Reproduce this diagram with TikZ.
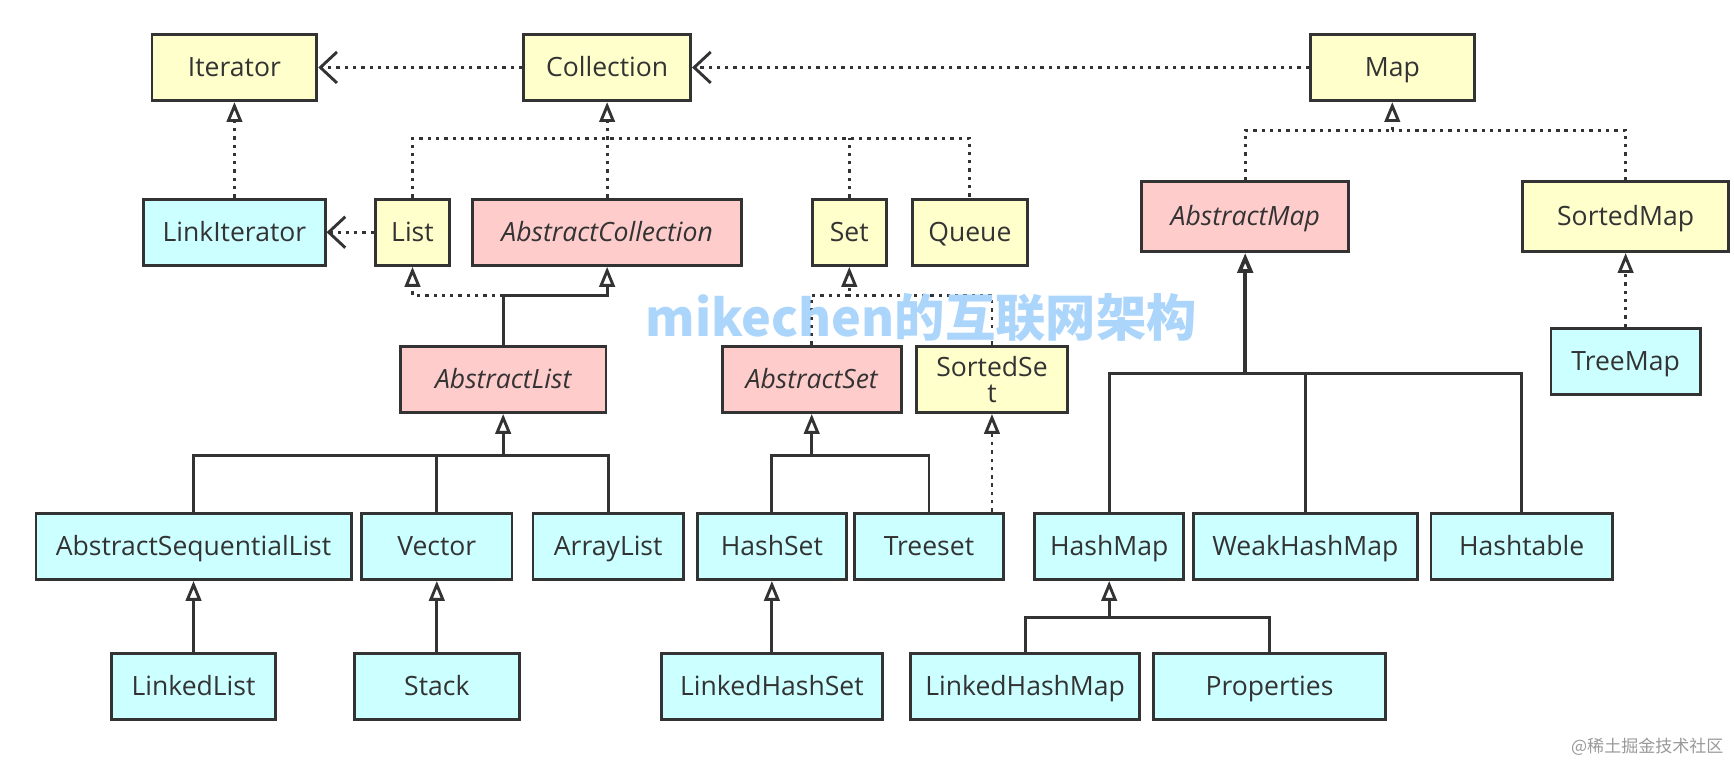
\documentclass[tikz,border=0pt]{standalone}
\usepackage{fontspec}
\setmainfont{Open Sans}
\newfontfamily\cjk{Noto Sans CJK SC}
\usetikzlibrary{arrows.meta}
\definecolor{ifc}{HTML}{FFFFCC}
\definecolor{absc}{HTML}{FFCCCC}
\definecolor{clsc}{HTML}{CCFFFF}
\definecolor{ink}{HTML}{333333}
\definecolor{wmblue}{HTML}{ABD5FB}
\begin{document}
\begin{tikzpicture}[x=1pt, y=-1pt, font=\fontsize{24}{28}\selectfont,
  frame/.style={draw=ink, line width=2.6pt, text=ink, minimum height=60pt, inner sep=0pt},
  box/.style={frame, text height=21pt, text depth=5pt},
  iface/.style={box, fill=ifc},
  absbox/.style={box, fill=absc, font=\fontsize{24}{28}\selectfont\itshape},
  cls/.style={box, fill=clsc},
  solidln/.style={draw=ink, line width=2.6pt},
  dotln/.style={draw=ink, line width=2.6pt, dash pattern=on 3pt off 4.5pt},
  ext/.style={solidln, -{Triangle[open, length=18pt, width=14pt]}},
  impl/.style={dotln, -{Triangle[open, length=18pt, width=14pt]}},
  uses/.style={dotln, -{Straight Barb[length=15pt, width=28pt]}}]

\useasboundingbox (0,0) rectangle (1568,689);

% interfaces and classes, row by row
\node[iface, minimum width=149pt] (iter) at (212,61) {Iterator};
\node[iface, minimum width=151pt] (coll) at (549,61) {Collection};
\node[iface, minimum width=148pt] (map) at (1259,61) {Map};

\node[cls, minimum width=164pt] (linkit) at (212,210) {LinkIterator};
\node[iface, minimum width=67pt] (list) at (373,210) {List};
\node[absbox, minimum width=243pt] (abscol) at (549,210) {AbstractCollection};
\node[iface, minimum width=67pt] (set) at (768,210) {Set};
\node[iface, minimum width=104pt] (queue) at (877,210) {Queue};
\node[absbox, minimum width=187pt, minimum height=63pt] (absmap) at (1126,196) {AbstractMap};
\node[iface, minimum width=186pt, minimum height=63pt] (sortmap) at (1470,196) {SortedMap};

\node[absbox, minimum width=186pt] (abslist) at (455,343) {AbstractList};
\node[absbox, minimum width=162pt] (absset) at (734,343) {AbstractSet};
\node[frame, fill=ifc, minimum width=136pt, align=center] (sortset) at (897,343) {SortedSe\\[-4pt]t};
\node[cls, minimum width=135pt] (treemap) at (1470,327) {TreeMap};

\node[cls, minimum width=285pt] (asl) at (175,494) {AbstractSequentialList};
\node[cls, minimum width=136pt] (vector) at (395,494) {Vector};
\node[cls, minimum width=136pt] (arrlist) at (550,494) {ArrayList};
\node[cls, minimum width=135pt] (hashset) at (698,494) {HashSet};
\node[cls, minimum width=135pt] (treeset) at (840,494) {Treeset};
\node[cls, minimum width=135pt] (hashmap) at (1003,494) {HashMap};
\node[cls, minimum width=203pt] (weak) at (1180.4,494) {WeakHashMap};
\node[cls, minimum width=164pt] (htable) at (1376,494) {Hashtable};

\node[cls, minimum width=148pt] (llist) at (175,621) {LinkedList};
\node[cls, minimum width=149pt] (stack) at (395,621) {Stack};
\node[cls, minimum width=200pt] (lhset) at (698,621) {LinkedHashSet};
\node[cls, minimum width=207pt] (lhmap) at (927,621) {LinkedHashMap};
\node[cls, minimum width=210pt] (props) at (1148,621) {Properties};

% bus points
\coordinate (cbus) at (549,125);
\coordinate (lbus) at (455,267);
\coordinate (sbus) at (768,267);
\coordinate (albus) at (455,412);
\coordinate (asbus) at (734,412);
\coordinate (mbus) at (1259,118);
\coordinate (ambus) at (1126,338);
\coordinate (hmbus) at (1003,558);

% top level
\draw[uses] (coll) -- (iter);
\draw[uses] (map) -- (coll);
\draw[impl] (linkit) -- (iter);
\draw[uses] (list) -- (linkit);

% Collection family
\draw[dotln] (list.north) |- (cbus) -| (queue.north);
\draw[dotln] (set.north) -- (set.north |- cbus);
\draw[impl] (abscol) -- (coll);
\draw[ext] (abslist.north) -- (lbus) -| (abscol.south);
\draw[impl] (lbus) -| (list.south);
\draw[impl] (absset.north) |- (sbus) -- (set.south);
\draw[dotln] (sortset.north) |- (sbus);

\draw[solidln] (asl.north) |- (albus);
\draw[solidln] (vector.north) -- (vector.north |- albus);
\draw[solidln] (arrlist.north) |- (albus);
\draw[ext] (albus) -- (abslist.south);
\draw[solidln] (hashset.north) |- (asbus);
\draw[solidln] (treeset.north) |- (asbus);
\draw[ext] (asbus) -- (absset.south);
\draw[impl] (treeset.north -| sortset.south) -- (sortset.south);

\draw[ext] (llist) -- (asl);
\draw[ext] (stack) -- (vector);
\draw[ext] (lhset) -- (hashset);

% Map family
\draw[dotln] (absmap.north) |- (mbus);
\draw[dotln] (sortmap.north) |- (mbus);
\draw[impl] (mbus) -- (map.south);
\draw[impl] (treemap) -- (sortmap);
\draw[solidln] (hashmap.north) |- (ambus);
\draw[solidln] (weak.north) -- (weak.north |- ambus);
\draw[solidln] (htable.north) |- (ambus);
\draw[ext, line width=3.4pt] (ambus) -- (absmap.south);
\draw[solidln] (lhmap.north) |- (hmbus);
\draw[solidln] (props.north) |- (hmbus);
\draw[ext] (hmbus) -- (hashmap.south);

% watermarks
\node[text=wmblue, font=\fontsize{45.5}{50}\selectfont\cjk\bfseries] (wm) at (833,287) {mikechen的互联网架构};
\node[anchor=east, text=gray!80, font=\fontsize{15.4}{17}\selectfont\cjk] (src) at (1562,675) {@稀土掘金技术社区};

\end{tikzpicture}
\end{document}
